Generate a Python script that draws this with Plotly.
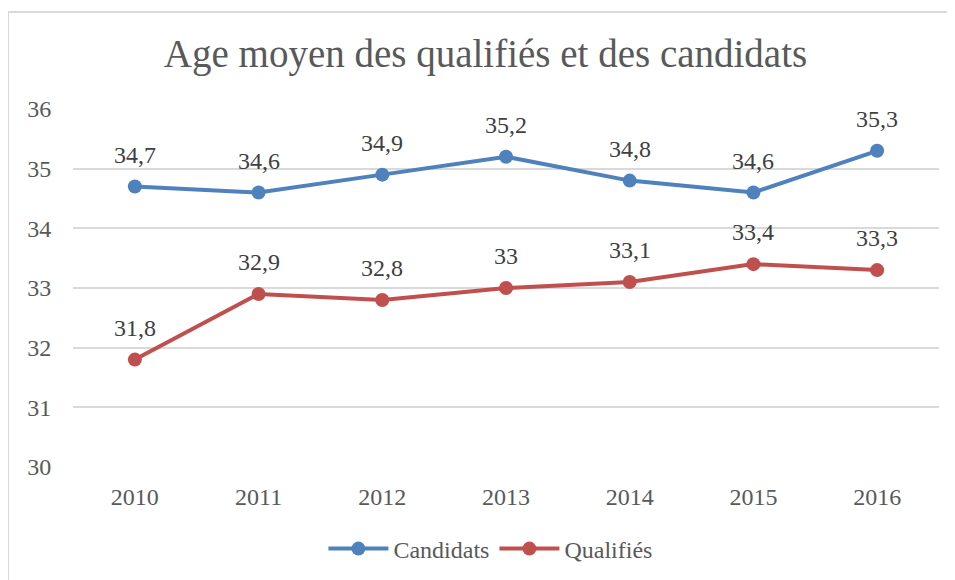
import plotly.graph_objects as go

# Age moyen des qualifiés et des candidats
years = ["2010", "2011", "2012", "2013", "2014", "2015", "2016"]
candidats = [34.7, 34.6, 34.9, 35.2, 34.8, 34.6, 35.3]
qualifies = [31.8, 32.9, 32.8, 33.0, 33.1, 33.4, 33.3]

BLUE = "#4F81BD"
RED = "#C0504D"
FONT = "Liberation Serif"


def fmt(v):
    # french decimal comma, no trailing ",0"
    s = f"{v:g}"
    return s.replace(".", ",")


fig = go.Figure()
for name, vals, color in [("Candidats", candidats, BLUE), ("Qualifiés", qualifies, RED)]:
    fig.add_trace(
        go.Scatter(
            x=years,
            y=vals,
            name=name,
            mode="lines+markers",
            line=dict(color=color, width=4),
            marker=dict(color=color, size=14),
        )
    )

annotations = []
for vals in (candidats, qualifies):
    for i, v in enumerate(vals):
        annotations.append(
            dict(
                x=i,
                y=v,
                text=fmt(v),
                showarrow=False,
                yanchor="bottom",
                yshift=17,
                font=dict(family=FONT, size=24, color="#404040"),
            )
        )

fig.update_layout(
    width=955,
    height=580,
    margin=dict(l=65, r=24, t=101, b=121),
    paper_bgcolor="white",
    plot_bgcolor="white",
    font=dict(family=FONT, size=24, color="#595959"),
    title=dict(
        text="Age moyen des qualifiés et des candidats",
        x=0.5,
        xanchor="center",
        xref="container",
        y=1 - 45 / 580,
        yanchor="middle",
        yref="container",
        font=dict(family=FONT, size=39, color="#595959"),
    ),
    showlegend=True,
    legend=dict(
        orientation="h",
        x=0.482,
        xanchor="center",
        y=-0.229,
        yanchor="middle",
        font=dict(family=FONT, size=24, color="#595959"),
        itemwidth=60,
    ),
    annotations=annotations,
    shapes=[
        dict(
            type="rect",
            xref="paper",
            yref="paper",
            x0=-0.075,
            x1=1.2,
            y0=-0.6,
            y1=1.271,
            line=dict(color="#D9D9D9", width=2),
            fillcolor="rgba(0,0,0,0)",
            layer="below",
        )
    ],
)

fig.update_xaxes(
    type="category",
    range=[-0.5, len(years) - 0.5],
    showgrid=False,
    zeroline=False,
    showline=False,
    ticks="outside",
    ticklen=8,
    tickcolor="rgba(0,0,0,0)",
    tickfont=dict(family=FONT, size=24, color="#595959"),
)
fig.update_yaxes(
    range=[30, 36],
    dtick=1,
    showgrid=True,
    gridcolor="#D9D9D9",
    gridwidth=1.5,
    zeroline=False,
    showline=False,
    ticks="outside",
    ticklen=16,
    tickcolor="rgba(0,0,0,0)",
    tickfont=dict(family=FONT, size=24, color="#595959"),
)

fig.write_html("out.html")
